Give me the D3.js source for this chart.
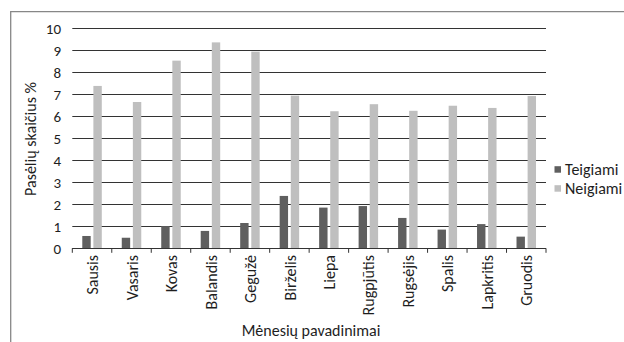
<!DOCTYPE html>
<html><head><meta charset="utf-8">
<script src="https://cdn.jsdelivr.net/npm/d3@7"></script>
<style>
html,body{margin:0;padding:0;background:#fff;}
text{font-family:Carlito,Lato,"Liberation Sans",sans-serif;fill:#1e1e1e;}
</style></head><body>
<svg id="chart" width="624" height="342"></svg>
<script>
const months = ["Sausis","Vasaris","Kovas","Balandis","Gegužė","Birželis","Liepa","Rugpjūtis","Rugsėjis","Spalis","Lapkritis","Gruodis"];
const seriesNames = ["Teigiami","Neigiami"];
const teigiami = [0.56,0.48,1.01,0.79,1.15,2.38,1.85,1.92,1.38,0.85,1.10,0.53];
const neigiami = [7.38,6.65,8.53,9.36,8.94,6.94,6.23,6.55,6.25,6.48,6.38,6.92];
const yTicks = [0,1,2,3,4,5,6,7,8,9,10];
const colors = ["#5f5f5f","#bfbfbf"];
const yTitle = "Pasėlių skaičius %";
const xTitle = "Mėnesių pavadinimai";

(function(){
const svg = d3.select("#chart");
const pLeft = 72.3, pRight = 546, pTop = 28.3, pBottom = 248.3;
const fs = 16;

// frame
svg.append("path").attr("d","M10.7,342 V11.7 H624")
  .attr("fill","none").attr("stroke","#878787").attr("stroke-width",1.3);

const x0 = d3.scaleBand().domain(months).range([pLeft,pRight]).paddingInner(0).paddingOuter(0);
const x1 = d3.scaleBand().domain(seriesNames).range([0,x0.bandwidth()]).paddingInner(0.243).paddingOuter(0.9);
const y = d3.scaleLinear().domain([0,10]).range([pBottom,pTop]);

// gridlines
svg.append("g").selectAll("line").data(yTicks).join("line")
  .attr("x1",pLeft).attr("x2",pRight)
  .attr("y1",d=>Math.round(y(d))+0.5).attr("y2",d=>Math.round(y(d))+0.5)
  .attr("stroke","#333").attr("stroke-width",1);

// y tick labels
svg.append("g").selectAll("text").data(yTicks).join("text")
  .attr("x",61).attr("y",d=>y(d)).attr("dy","0.35em")
  .attr("text-anchor","end").attr("font-size",15).text(d=>d);

// bars
const data = months.map((m,i)=>({m, vals:[teigiami[i],neigiami[i]]}));
const groups = svg.append("g").selectAll("g").data(data).join("g")
  .attr("transform",d=>`translate(${x0(d.m)},0)`);
groups.selectAll("rect").data(d=>d.vals.map((v,j)=>({s:seriesNames[j],v,j}))).join("rect")
  .attr("x",d=>x1(d.s)).attr("width",x1.bandwidth())
  .attr("y",d=>y(d.v)).attr("height",d=>y(0)-y(d.v))
  .attr("fill",d=>colors[d.j]);

// x axis baseline + ticks
svg.append("line").attr("x1",pLeft).attr("x2",pRight).attr("y1",Math.round(pBottom)+0.5).attr("y2",Math.round(pBottom)+0.5)
  .attr("stroke","#333");
const bounds = months.map(m=>x0(m)).concat([x0(months[months.length-1])+x0.bandwidth()]);
svg.append("g").selectAll("line").data(bounds).join("line")
  .attr("x1",d=>d).attr("x2",d=>d).attr("y1",pBottom).attr("y2",pBottom+4.5)
  .attr("stroke","#333");

// x labels
svg.append("g").selectAll("text").data(months).join("text")
  .attr("transform",m=>`translate(${x0(m)+x0.bandwidth()/2+0.5},255) rotate(-90)`)
  .attr("dy","0.35em").attr("text-anchor","end").attr("font-size",fs).text(m=>m);

// axis titles
svg.append("text").attr("transform","translate(30.5,139) rotate(-90)")
  .attr("dy","0.35em").attr("text-anchor","middle").attr("font-size",fs).text(yTitle);
svg.append("text").attr("x",311).attr("y",330).attr("dy","0.35em")
  .attr("text-anchor","middle").attr("font-size",fs).text(xTitle);

// legend
const lg = svg.append("g").selectAll("g").data(seriesNames).join("g")
  .attr("transform",(d,i)=>`translate(554.5,${169.5+i*19})`);
lg.append("rect").attr("x",0).attr("y",-3.3).attr("width",6.5).attr("height",6.5).attr("fill",(d,i)=>colors[i]);
lg.append("text").attr("x",10.5).attr("y",0).attr("dy","0.35em").attr("font-size",fs).text(d=>d);
})();
</script>
</body></html>
